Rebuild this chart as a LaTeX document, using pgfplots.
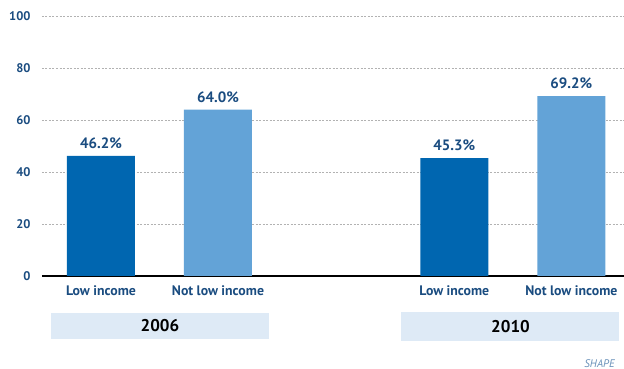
\documentclass[border=0pt]{standalone}
\usepackage{pgfplots}
\pgfplotsset{compat=1.18}
\usepackage{fontspec}
\setmainfont{PT Sans}
\definecolor{lowinc}{RGB}{0,102,176}
\definecolor{notlow}{RGB}{99,163,215}
\definecolor{labblue}{RGB}{26,76,128}
\definecolor{yearbox}{RGB}{222,234,246}
\definecolor{baseline}{RGB}{105,145,185}

\begin{document}
\begin{tikzpicture}
\useasboundingbox (-42pt,-93pt) rectangle (582pt,276pt);
\begin{axis}[
  at={(0,0)}, anchor=south west,
  scale only axis,
  width=582pt, height=260pt,
  xmin=-0.504, xmax=4.47,
  ymin=0, ymax=100,
  ytick={0,20,40,60,80,100},
  xtick={0,1,3.02,4.02},
  xticklabels={Low income, Not low income, Low income, Not low income},
  /pgf/number format/assume math mode=true,
  ymajorgrids=true,
  grid style={dash pattern=on 2pt off 1.5pt, gray!60, line width=0.5pt},
  major tick length=0pt,
  axis x line*=bottom, axis y line*=left,
  x axis line style={baseline, line width=1.6pt},
  y axis line style={draw=none},
  yticklabel style={font=\bfseries\fontsize{12.5}{13}\selectfont, text=labblue, xshift=-8pt},
  xticklabel style={font=\bfseries\fontsize{13.8}{14}\selectfont, text=labblue, yshift=-6pt},
  ybar, bar width=68pt, bar shift=0pt,
  clip=false,
  nodes near coords={\pgfmathprintnumber[fixed,fixed zerofill,precision=1]{\pgfplotspointmeta}\%},
  every node near coord/.append style={font=\bfseries\fontsize{15}{16}\selectfont, text=labblue, yshift=3.5pt},
]
\addplot[fill=lowinc, draw=none] coordinates {(0,46.2) (3.02,45.3)};
\addplot[fill=notlow, draw=none] coordinates {(1,64.0) (4.02,69.2)};

\fill[yearbox] (axis cs:-0.427,-14.2) rectangle (axis cs:1.436,-24.2);
\fill[yearbox] (axis cs:2.564,-13.9) rectangle (axis cs:4.427,-25.0);
\node[font=\bfseries\fontsize{17}{18}\selectfont] at (axis cs:0.504,-19.2) {2006};
\node[font=\bfseries\fontsize{17}{18}\selectfont] at (axis cs:3.5,-19.5) {2010};
\node[font=\itshape\fontsize{11}{12}\selectfont, text=baseline, anchor=east] at (axis cs:4.42,-33.7) {SHAPE};
\end{axis}
\end{tikzpicture}
\end{document}
